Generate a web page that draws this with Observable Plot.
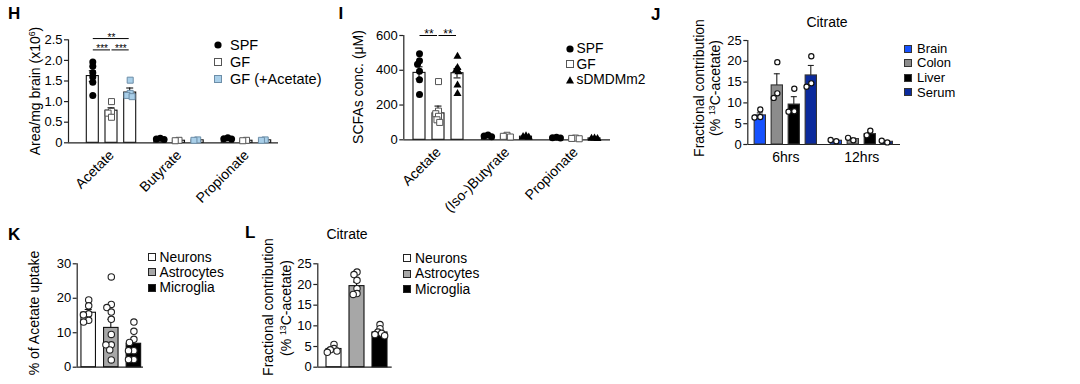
<!DOCTYPE html>
<html>
<head>
<meta charset="utf-8">
<script src="https://cdn.jsdelivr.net/npm/d3@7"></script>
<script src="https://cdn.jsdelivr.net/npm/@observablehq/plot@0.6"></script>
<style>
  html, body { margin: 0; padding: 0; background: #fff; }
  #fig { position: relative; width: 1080px; height: 384px; overflow: hidden; background: #fff;
         font-family: "Liberation Sans", Arial, Helvetica, sans-serif; color: #000; }
  #fig svg { position: absolute; left: 0; top: 0; overflow: visible; background: transparent !important; max-width: none !important; }
</style>
</head>
<body>
<div id="fig"></div>
<script>
// ------------------------------------------------------------------ DATA
// Panel H
const hGroups = ["Acetate", "Butyrate", "Propionate"];
const hSeries = ["SPF", "GF", "GF (+Acetate)"];
const hMeanSPF = [1.62, 0.09, 0.10];
const hMeanGF  = [0.78, 0.05, 0.05];
const hMeanGFA = [1.22, 0.06, 0.06];
const hSemSPF = [0.13, 0.01, 0.01];
const hSemGF  = [0.07, 0.005, 0.005];
const hSemGFA = [0.11, 0.005, 0.005];
const hDotsSPF = [[1.96, 1.86, 1.70, 1.60, 1.47, 1.15], [0.11, 0.09, 0.08], [0.12, 0.10, 0.09]];
const hDotsGF  = [[1.00, 0.76, 0.72, 0.62], [0.06, 0.05], [0.06, 0.05]];
const hDotsGFA = [[1.52, 1.20, 1.15, 1.12], [0.07, 0.06], [0.07, 0.06]];
const hTicks = [0, 0.5, 1.0, 1.5, 2.0, 2.5];

// Panel I
const iGroups = ["Acetate", "(Iso-)Butyrate", "Propionate"];
const iSeries = ["SPF", "GF", "sDMDMm2"];
const iMeanSPF = [385, 22, 12];
const iMeanGF  = [152, 20, 8];
const iMeanSD  = [383, 18, 8];
const iSemSPF = [35, 2, 1];
const iSemGF  = [42, 3, 1];
const iSemSD  = [27, 2, 1];
const iDotsSPF = [[495, 455, 435, 395, 345, 260], [28, 22, 18], [14, 12, 10]];
const iDotsGF  = [[335, 165, 150, 135, 115, 100], [26, 20, 16], [10, 8, 6]];
const iDotsSD  = [[480, 415, 400, 390, 315, 265], [22, 18, 15], [10, 8, 7]];
const iTicks = [0, 200, 400, 600];

// Panel J
const jGroups = ["6hrs", "12hrs"];
const jSeries = ["Brain", "Colon", "Liver", "Serum"];
const jMeanBrain = [7.0, 0.9];
const jMeanColon = [14.2, 1.3];
const jMeanLiver = [9.6, 2.5];
const jMeanSerum = [16.6, 0.65];
const jSemBrain = [0.6, 0.15];
const jSemColon = [2.8, 0.25];
const jSemLiver = [1.9, 0.4];
const jSemSerum = [2.4, 0.2];
const jDotsBrain = [[8.4, 6.6, 6.5], [0.8, 1.1]];
const jDotsColon = [[19.8, 12.3, 11.2], [1.0, 1.6]];
const jDotsLiver = [[13.4, 8.0, 7.9], [3.3, 2.2]];
const jDotsSerum = [[21.2, 14.7, 13.9], [0.5, 0.9]];
const jTicks = [0, 5, 10, 15, 20, 25];

// Panel K
const kSeries = ["Neurons", "Astrocytes", "Microglia"];
const kMean = [15.8, 11.4, 6.8];
const kSem = [0.95, 2.5, 1.2];
const kDotsNeurons = [19.5, 17.8, 15.5, 15.2, 13.6, 13.1];
const kDotsAstro = [26.2, 18.2, 17.3, 16.0, 13.9, 9.5, 6.5, 6.5, 5.0, 2.1];
const kDotsMicro = [13.1, 10.4, 8.1, 7.2, 4.8, 4.8, 2.2, 2.2];
const kTicks = [0, 10, 20, 30];

// Panel L
const lSeries = ["Neurons", "Astrocytes", "Microglia"];
const lMean = [4.4, 19.6, 8.4];
const lSem = [0.3, 1.0, 0.45];
const lDotsNeurons = [5.5, 4.5, 4.2, 3.9, 3.6];
const lDotsAstro = [23.0, 22.4, 21.0, 19.0, 17.8, 17.6];
const lDotsMicro = [10.3, 9.3, 8.5, 8.2, 7.9, 7.6];
const lTicks = [0, 5, 10, 15, 20, 25];

// ------------------------------------------------------------------ HELPERS
const FONT = '"Liberation Sans", Arial, Helvetica, sans-serif';
const AX = "#222";
const fig = document.getElementById("fig");

function barRows(groups, series, means, sems) {
  const out = [];
  series.forEach((s, i) => groups.forEach((g, j) => out.push({group: g, series: s, mean: means[i][j], sem: sems[i][j]})));
  return out;
}
function dotRows(groups, series, dots) {
  const out = [];
  series.forEach((s, i) => groups.forEach((g, j) => dots[i][j].forEach(v => out.push({group: g, series: s, value: v}))));
  return out;
}
function div(css, html) {
  const d = document.createElement("div");
  d.style.cssText = css;
  if (html != null) d.innerHTML = html;
  fig.appendChild(d);
  return d;
}
// place text by its baseline; lh = line-height in px
function label(x, baseline, html, fs, extra = "", lh = fs) {
  const top = baseline - ((lh - 1.117 * fs) / 2 + 0.905 * fs);
  return div(`position:absolute;left:${x}px;top:${top}px;font-size:${fs}px;line-height:${lh}px;white-space:nowrap;${extra}`, html);
}
function centered(cx, baseline, html, fs) { return label(cx, baseline, html, fs, "transform:translateX(-50%);"); }
function vlabel(cx, cy, html, fs) {
  return div(`position:absolute;left:${cx}px;top:${cy}px;font-size:${fs}px;line-height:${fs}px;white-space:nowrap;transform:translate(-50%,-50%) rotate(-90deg);`, html);
}
const sup = (t) => `<span style="font-size:0.62em;vertical-align:0.55em;line-height:0">${t}</span>`;

const mk = {
  circle: (f = "#000") => `<circle cx="6" cy="6" r="3.6" fill="${f}"/>`,
  square: (f, s) => `<rect x="2.5" y="2.5" width="7" height="7" fill="${f}" stroke="${s}" stroke-width="1"/>`,
  triangle: () => `<path d="M6,2.3 L10,9.4 L2,9.4 Z" fill="#000"/>`
};
function legend(mx, tx, rows, items, fs, lh) {
  items.forEach((it, i) => {
    const y = rows[i];
    const d = div(`position:absolute;left:${mx - 6}px;top:${y - 6}px;width:12px;height:12px;`);
    d.innerHTML = `<svg width="12" height="12" viewBox="0 0 12 12">${it.marker}</svg>`;
    label(tx, y + 0.358 * fs, it.label, fs, "", lh);
  });
}

function panel(cfg) {
  const {left, top, width, height, yAxisX, axisEnd, y0, yTop, yDomain, ticks, tickFormat,
         groups, facet, dataStart, dataEnd, series, step, bw, capW, bars, dots, styles,
         dodgePad, brackets, starSize = 12, fxAxis} = cfg;
  const box = div(`position:absolute;left:${left}px;top:${top}px;width:${width}px;height:${height}px;`);
  const mt = yTop - top, mb = top + height - y0;
  const style = {fontFamily: FONT, background: "transparent", overflow: "visible", color: "#000"};

  // axis layer: y axis with its line, and the x baseline
  const axisSvg = Plot.plot({
    width, height, marginTop: mt, marginBottom: mb,
    marginLeft: yAxisX - left, marginRight: left + width - axisEnd,
    style,
    x: {domain: [0, 1], axis: null},
    y: {domain: yDomain},
    marks: [
      Plot.axisY({ticks, tickFormat, tickSize: 4, tickPadding: 2, fontSize: 13, label: null, stroke: AX, strokeWidth: 1.2}),
      Plot.ruleX([0], {stroke: AX, strokeWidth: 1.2}),
      Plot.ruleY([0], {stroke: AX, strokeWidth: 1.2})
    ]
  });
  box.appendChild(axisSvg);

  // data layer
  const n = series.length;
  const nG = facet ? groups.length : 1;
  const fw = (dataEnd - dataStart) / nG;
  const pi = 1 - bw / step;
  const po = (fw / step - n + pi) / 2;
  // dodge output gets the band half-width added by Plot, so compensate
  const off = series.map((_, i) => (i - (n - 1) / 2) * step - bw / 2);
  const F = facet ? {fx: "group"} : {};
  const marks = [];
  series.forEach((s, i) => {
    const st = styles[i];
    const B = bars.filter(d => d.series === s);
    const D = dots.filter(d => d.series === s);
    marks.push(Plot.barY(B, {...F, x: "series", y: "mean", fill: st.bar, stroke: st.barStroke, strokeWidth: 1.1}));
    const lo = st.errBoth ? (d => d.mean - d.sem) : (d => d.mean);
    marks.push(Plot.barY(B, {...F, x: "series", y1: lo, y2: d => d.mean + d.sem, fill: st.err, insetLeft: (bw - 1.1) / 2, insetRight: (bw - 1.1) / 2}));
    marks.push(Plot.tickY(B, {...F, x: "series", y: d => d.mean + d.sem, stroke: st.err, strokeWidth: 1.1, inset: (bw - capW) / 2}));
    if (st.errBoth) marks.push(Plot.tickY(B, {...F, x: "series", y: d => d.mean - d.sem, stroke: st.err, strokeWidth: 1.1, inset: (bw - capW) / 2}));
    marks.push(Plot.dot(D, Plot.dodgeX({anchor: "middle", padding: dodgePad},
      {...F, y: "value", r: st.r, symbol: st.symbol, fill: st.dotFill, stroke: st.dotStroke, strokeWidth: st.dotSW, dx: off[i]})));
  });
  (brackets || []).forEach(b => {
    const span = series.indexOf(b.to) - series.indexOf(b.from);
    marks.push(Plot.ruleY([b], {...F, x1: "from", x2: "to", y: "y", stroke: "#000", strokeWidth: 1, insetLeft: bw / 2 + 0.5, insetRight: bw / 2 + 1}));
    marks.push(Plot.text([b], {...F, x: "from", y: "y", text: "label", dx: span * step / 2, dy: -1, fontSize: starSize, fill: "#000"}));
  });
  if (fxAxis === "rot") marks.push(Plot.axisFx({anchor: "bottom", tickSize: 0, tickPadding: 10, tickRotate: -45, fontSize: 14, label: null}));
  if (fxAxis === "flat") marks.push(Plot.axisFx({anchor: "bottom", tickSize: 0, tickPadding: 8, fontSize: 14, label: null}));

  const opts = {
    width, height, marginTop: mt, marginBottom: mb,
    marginLeft: dataStart - left, marginRight: left + width - dataEnd,
    style,
    x: {domain: series, paddingInner: pi, paddingOuter: po, round: false, axis: null},
    y: {domain: yDomain, axis: null},
    marks
  };
  if (facet) opts.fx = {domain: groups, paddingInner: 0, paddingOuter: 0, round: false};
  box.appendChild(Plot.plot(opts));
}

// ------------------------------------------------------------------ PANEL H
const fmt1 = d => d === 0 ? "0" : d.toFixed(1);
panel({
  left: 0, top: 0, width: 340, height: 210,
  yAxisX: 68, axisEnd: 278, y0: 142.3, yTop: 39.3, yDomain: [0, 2.5], ticks: hTicks, tickFormat: fmt1,
  groups: hGroups, facet: true, dataStart: 77.25, dataEnd: 279.75,
  series: hSeries, step: 18.7, bw: 12, capW: 7, dodgePad: -3,
  bars: barRows(hGroups, hSeries, [hMeanSPF, hMeanGF, hMeanGFA], [hSemSPF, hSemGF, hSemGFA]),
  dots: dotRows(hGroups, hSeries, [hDotsSPF, hDotsGF, hDotsGFA]),
  styles: [
    {bar: "#fff", barStroke: "#111", err: "#111", errBoth: true, symbol: "circle", r: 3.5, dotFill: "#000", dotStroke: "none", dotSW: 0},
    {bar: "#fff", barStroke: "#111", err: "#111", errBoth: true, symbol: "square", r: 3.4, dotFill: "#fff", dotStroke: "#555", dotSW: 1},
    {bar: "#fff", barStroke: "#111", err: "#111", errBoth: true, symbol: "square", r: 3.4, dotFill: "#a9cfe9", dotStroke: "#6d8ea8", dotSW: 1}
  ],
  brackets: [
    {group: "Acetate", from: "SPF", to: "GF (+Acetate)", y: 2.53, label: "**"},
    {group: "Acetate", from: "SPF", to: "GF", y: 2.255, label: "***"},
    {group: "Acetate", from: "GF", to: "GF (+Acetate)", y: 2.255, label: "***"}
  ],
  starSize: 10,
  fxAxis: "rot"
});

// ------------------------------------------------------------------ PANEL I
panel({
  left: 340, top: 0, width: 330, height: 210,
  yAxisX: 403.3, axisEnd: 610, y0: 139.3, yTop: 35, yDomain: [0, 600], ticks: iTicks, tickFormat: d => String(d),
  groups: iGroups, facet: true, dataStart: 403.75, dataEnd: 609.25,
  series: iSeries, step: 19, bw: 12, capW: 7, dodgePad: -3,
  bars: barRows(iGroups, iSeries, [iMeanSPF, iMeanGF, iMeanSD], [iSemSPF, iSemGF, iSemSD]),
  dots: dotRows(iGroups, iSeries, [iDotsSPF, iDotsGF, iDotsSD]),
  styles: [
    {bar: "#fff", barStroke: "#111", err: "#111", errBoth: true, symbol: "circle", r: 3.5, dotFill: "#000", dotStroke: "none", dotSW: 0},
    {bar: "#fff", barStroke: "#111", err: "#111", errBoth: true, symbol: "square", r: 3.4, dotFill: "#fff", dotStroke: "#555", dotSW: 1},
    {bar: "#fff", barStroke: "#111", err: "#111", errBoth: true, symbol: "triangle", r: 3.0, dotFill: "#000", dotStroke: "none", dotSW: 0}
  ],
  brackets: [
    {group: "Acetate", from: "SPF", to: "GF", y: 600, label: "**"},
    {group: "Acetate", from: "GF", to: "sDMDMm2", y: 600, label: "**"}
  ],
  starSize: 12,
  fxAxis: "rot"
});

// ------------------------------------------------------------------ PANEL J
const jColors = ["#1652ff", "#8c8c8c", "#000000", "#0b2a9c"];
panel({
  left: 670, top: 0, width: 300, height: 175,
  yAxisX: 747.3, axisEnd: 900, y0: 144, yTop: 40, yDomain: [0, 25], ticks: jTicks, tickFormat: d => String(d),
  groups: jGroups, facet: true, dataStart: 747.3, dataEnd: 899.3,
  series: jSeries, step: 17, bw: 11.3, capW: 6, dodgePad: 0.6,
  bars: barRows(jGroups, jSeries, [jMeanBrain, jMeanColon, jMeanLiver, jMeanSerum], [jSemBrain, jSemColon, jSemLiver, jSemSerum]),
  dots: dotRows(jGroups, jSeries, [jDotsBrain, jDotsColon, jDotsLiver, jDotsSerum]),
  styles: jColors.map(c => ({bar: c, barStroke: "#333", err: "#222", errBoth: false, symbol: "circle", r: 2.6, dotFill: "#fff", dotStroke: "#111", dotSW: 1.2})),
  fxAxis: "flat"
});

// ------------------------------------------------------------------ PANEL K
const cellStyles = [
  {bar: "#fff", barStroke: "#111", err: "#111", errBoth: true, symbol: "circle", r: 3.2, dotFill: "#fff", dotStroke: "#222", dotSW: 1.1},
  {bar: "#a7a7a7", barStroke: "#111", err: "#111", errBoth: false, symbol: "circle", r: 3.2, dotFill: "#fff", dotStroke: "#222", dotSW: 1.1},
  {bar: "#000", barStroke: "#111", err: "#111", errBoth: false, symbol: "circle", r: 3.2, dotFill: "#fff", dotStroke: "#222", dotSW: 1.1}
];
panel({
  left: 0, top: 215, width: 240, height: 169,
  yAxisX: 76.7, axisEnd: 143, y0: 366.7, yTop: 263.3, yDomain: [0, 30], ticks: kTicks, tickFormat: d => String(d),
  groups: ["all"], facet: false, dataStart: 77.65, dataEnd: 143.95,
  series: kSeries, step: 22.6, bw: 14.5, capW: 7, dodgePad: -1,
  bars: barRows(["all"], kSeries, kMean.map(v => [v]), kSem.map(v => [v])),
  dots: dotRows(["all"], kSeries, [[kDotsNeurons], [kDotsAstro], [kDotsMicro]]),
  styles: cellStyles
});

// ------------------------------------------------------------------ PANEL L
panel({
  left: 240, top: 215, width: 280, height: 169,
  yAxisX: 317.3, axisEnd: 391.7, y0: 366.7, yTop: 263.3, yDomain: [0, 25], ticks: lTicks, tickFormat: d => String(d),
  groups: ["all"], facet: false, dataStart: 319.3, dataEnd: 393.7,
  series: lSeries, step: 23, bw: 15, capW: 7, dodgePad: -2.5,
  bars: barRows(["all"], lSeries, lMean.map(v => [v]), lSem.map(v => [v])),
  dots: dotRows(["all"], lSeries, [[lDotsNeurons], [lDotsAstro], [lDotsMicro]]),
  styles: cellStyles
});

// ------------------------------------------------------------------ TEXT
const BOLD = "font-weight:bold;";
label(8, 19.3, "H", 17, BOLD);
label(338.5, 19.5, "I", 17, BOLD);
label(651, 20.5, "J", 17, BOLD);
label(8, 240, "K", 17, BOLD);
label(245, 238.5, "L", 17, BOLD);

centered(827, 26.7, "Citrate", 14);
centered(347, 239, "Citrate", 14);

vlabel(35, 91, `Area/mg brain (x10${sup("6")})`, 14);
vlabel(358, 87, "SCFAs conc. (μM)", 14);
vlabel(699, 88, "Fractional contribution", 14);
vlabel(715, 88, `(% ${sup("13")}C-acetate)`, 14);
vlabel(34, 313, "% of Acetate uptake", 14);
vlabel(268, 307, "Fractional contribution", 14);
vlabel(286, 308, `(% ${sup("13")}C-acetate)`, 14);

legend(218, 230, [45, 62, 79.3], [
  {label: hSeries[0], marker: mk.circle()},
  {label: hSeries[1], marker: mk.square("#fff", "#555")},
  {label: hSeries[2], marker: mk.square("#a9cfe9", "#6d8ea8")}
], 14.5, 14);
legend(570, 576.5, [48.5, 64, 79.5], [
  {label: iSeries[0], marker: mk.circle()},
  {label: iSeries[1], marker: mk.square("#fff", "#555")},
  {label: iSeries[2], marker: mk.triangle()}
], 13.8, 13);
legend(908, 917, [48.6, 63.2, 77.8, 92.4], jSeries.map((s, i) => ({label: s, marker: mk.square(jColors[i], "#333")})), 13, 12);
const cellLegend = (s, i) => ({label: s, marker: mk.square(["#fff", "#a7a7a7", "#000"][i], "#222")});
legend(152, 159.5, [257, 272.4, 287.8], kSeries.map(cellLegend), 13.8, 13);
legend(407, 415, [258, 273.5, 289], lSeries.map(cellLegend), 13.8, 13);
</script>
</body>
</html>
